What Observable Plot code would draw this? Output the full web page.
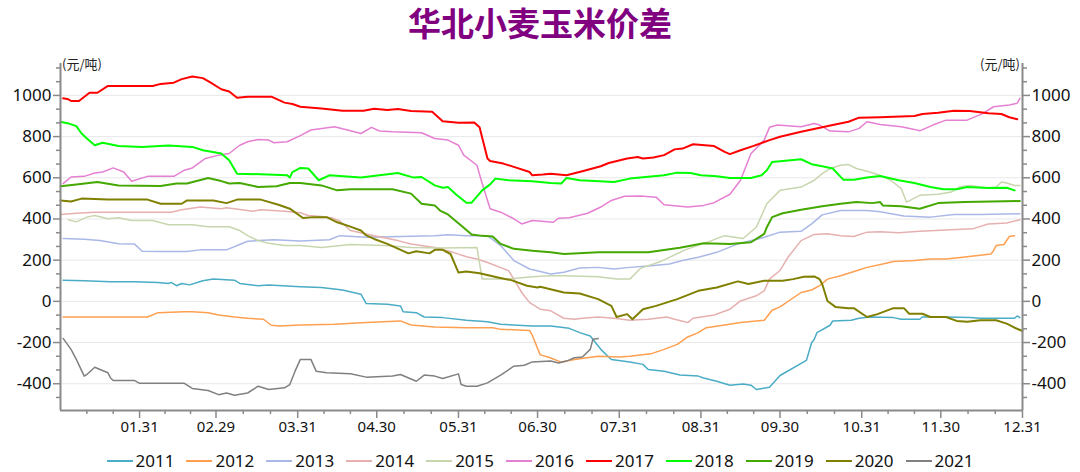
<!DOCTYPE html>
<html><head><meta charset="utf-8">
<script src="https://cdn.jsdelivr.net/npm/d3@7"></script>
<script src="https://cdn.jsdelivr.net/npm/@observablehq/plot@0.6"></script>
<style>
body{margin:0;background:#fff;width:1080px;height:472px;overflow:hidden;position:relative;font-family:"Noto Sans",sans-serif;color:#111;}
#title{position:absolute;top:0;left:0;width:1080px;text-align:center;font-weight:bold;font-size:33px;font-family:"Noto Sans CJK SC";color:#800080;line-height:44px;}
#chart{position:absolute;top:45px;left:0;}
.unit{position:absolute;top:54px;font-size:13px;font-family:"Noto Sans CJK SC";color:#222;}
#legend{position:absolute;top:450px;left:0;width:1080px;display:flex;justify-content:center;font-size:17px;line-height:22px;}
.item{display:flex;align-items:center;margin:0 6px;}
.sw{width:26px;height:2px;margin-right:3px;}
</style></head>
<body>
<div id="title">华北小麦玉米价差</div>
<div class="unit" style="left:62px">(元/吨)</div>
<div class="unit" style="right:60px">(元/吨)</div>
<div id="chart"></div>
<div id="legend"></div>
<script>
const years = ["2011","2012","2013","2014","2015","2016","2017","2018","2019","2020","2021"];
const colors = ["#4BACC6","#FF9F50","#A9B8E6","#E6B0B0","#C8D6AE","#E580D2","#FF0000","#00FF00","#44A800","#808000","#808080"];
const widths = [1.5,1.5,1.5,1.5,1.5,1.5,2,2,2,2,1.5];
const monthEnds = ["01-31","02-29","03-31","04-30","05-31","06-30","07-31","08-31","09-30","10-31","11-30","12-31"];
const yTicks = [-400,-200,0,200,400,600,800,1000];

const s2011 = [["01-02",103],["01-10",100],["01-20",95],["01-29",95],["02-07",92],["02-11",87],["02-12",92],["02-14",76],["02-16",87],["02-19",80],["02-24",100],["02-28",108],["03-07",103],["03-09",87],["03-16",76],["03-20",80],["04-01",71],["04-09",67],["04-17",55],["04-24",35],["04-26",-11],["05-04",-14],["05-09",-22],["05-10",-50],["05-15",-55],["05-18",-76],["05-25",-79],["06-03",-92],["06-11",-99],["06-16",-111],["06-28",-120],["07-05",-120],["07-12",-131],["07-16",-152],["07-20",-168],["07-24",-233],["07-28",-282],["08-04",-294],["08-09",-306],["08-11",-331],["08-17",-339],["08-23",-358],["08-30",-363],["09-01",-372],["09-06",-388],["09-11",-407],["09-16",-401],["09-19",-407],["09-21",-428],["09-26",-417],["09-30",-360],["10-10",-287],["10-12",-201],["10-13",-184],["10-14",-152],["10-19",-116],["10-20",-95],["10-27",-92],["10-30",-82],["11-03",-76],["11-12",-79],["11-15",-87],["11-22",-87],["11-23",-76],["12-02",-76],["12-11",-79],["12-15",-82],["12-28",-82],["12-29",-71],["12-30",-79]];
const s2012 = [["01-02",-76],["02-03",-76],["02-07",-55],["02-17",-51],["02-20",-50],["02-26",-55],["03-01",-66],["03-07",-76],["03-12",-82],["03-18",-87],["03-21",-116],["03-24",-120],["04-01",-115],["04-14",-111],["04-26",-103],["05-09",-95],["05-13",-115],["05-22",-124],["06-03",-128],["06-13",-128],["06-16",-136],["06-27",-141],["06-28",-165],["07-01",-260],["07-04",-270],["07-09",-295],["07-14",-282],["07-23",-266],["07-31",-270],["08-04",-266],["08-12",-255],["08-17",-233],["08-22",-209],["08-26",-173],["08-30",-152],["09-02",-128],["09-09",-115],["09-15",-103],["09-24",-92],["09-27",-43],["09-30",-27],["10-08",43],["10-12",55],["10-15",76],["10-18",108],["10-23",124],["10-29",149],["11-02",165],["11-08",181],["11-12",194],["11-20",198],["11-26",206],["12-02",206],["12-10",217],["12-19",230],["12-20",246],["12-21",271],["12-24",276],["12-26",315],["12-28",319]];
const s2013 = [["01-02",305],["01-10",301],["01-16",295],["01-23",280],["01-29",279],["02-01",243],["02-08",242],["02-18",242],["02-23",250],["03-04",250],["03-09",276],["03-12",292],["03-22",299],["04-01",293],["04-12",299],["04-16",319],["04-26",311],["05-09",315],["05-22",319],["05-27",324],["06-03",319],["06-11",319],["06-16",271],["06-21",198],["06-27",157],["07-05",133],["07-10",141],["07-16",162],["07-23",165],["07-29",157],["08-04",165],["08-12",173],["08-19",181],["08-24",198],["08-30",214],["09-06",238],["09-14",279],["09-24",311],["09-30",336],["10-08",340],["10-12",376],["10-16",420],["10-23",441],["11-02",441],["11-07",435],["11-16",414],["11-26",409],["12-05",422],["12-15",422],["12-30",425]];
const s2014 = [["01-01",422],["01-07",428],["01-14",433],["02-12",433],["02-16",445],["02-23",458],["03-02",450],["03-04",455],["03-14",438],["03-17",445],["03-26",438],["04-01",430],["04-04",417],["04-09",412],["04-13",405],["04-16",390],["04-20",344],["04-29",319],["05-08",295],["05-13",279],["05-22",262],["05-29",238],["06-03",217],["06-07",206],["06-11",189],["06-19",149],["06-21",108],["06-24",43],["06-27",-6],["07-01",-38],["07-05",-46],["07-10",-82],["07-14",-87],["07-17",-82],["07-23",-76],["07-29",-82],["08-04",-92],["08-11",-87],["08-18",-76],["08-21",-87],["08-26",-103],["08-28",-82],["09-05",-66],["09-11",-38],["09-15",2],["09-21",27],["09-24",51],["09-26",108],["09-30",150],["10-03",214],["10-08",295],["10-13",325],["10-18",328],["10-23",319],["10-28",315],["11-02",336],["11-07",338],["11-14",333],["11-22",340],["12-02",347],["12-12",352],["12-18",376],["12-25",380],["12-30",396]];
const s2015 = [["01-04",396],["01-07",386],["01-11",409],["01-14",417],["01-19",401],["01-23",406],["01-28",393],["02-05",393],["02-11",372],["02-20",372],["02-26",362],["03-05",362],["03-09",344],["03-12",319],["03-16",295],["03-20",282],["03-26",271],["04-01",271],["04-09",262],["04-20",276],["05-03",271],["05-13",262],["05-25",259],["06-07",262],["06-09",108],["06-19",108],["06-28",119],["07-05",124],["07-10",124],["07-23",119],["07-30",108],["08-04",108],["08-08",160],["08-16",195],["08-25",250],["09-03",290],["09-09",319],["09-16",305],["09-21",360],["09-25",474],["09-30",539],["10-08",555],["10-13",588],["10-16",620],["10-19",645],["10-23",661],["10-26",664],["10-29",645],["11-02",632],["11-07",612],["11-11",588],["11-15",547],["11-17",482],["11-22",515],["11-29",520],["12-04",531],["12-07",555],["12-11",563],["12-18",550],["12-21",555],["12-23",580],["12-25",575],["12-28",563],["12-30",563]];
const s2016 = [["01-02",572],["01-05",604],["01-10",607],["01-14",623],["01-17",628],["01-21",648],["01-25",628],["01-28",583],["02-03",607],["02-13",607],["02-17",637],["02-20",648],["02-25",694],["03-01",710],["03-05",718],["03-09",758],["03-12",775],["03-16",786],["03-20",783],["03-22",770],["03-27",775],["04-01",805],["04-05",832],["04-14",848],["04-20",828],["04-24",815],["04-28",845],["05-01",827],["05-06",823],["05-17",819],["05-22",791],["05-27",783],["05-31",758],["06-02",710],["06-07",661],["06-09",572],["06-12",450],["06-16",433],["06-21",401],["06-24",376],["06-28",393],["07-06",384],["07-08",404],["07-12",406],["07-19",428],["07-24",458],["07-28",490],["08-02",510],["08-08",511],["08-14",506],["08-17",469],["08-26",458],["09-01",466],["09-05",479],["09-11",520],["09-15",588],["09-19",718],["09-24",783],["09-26",845],["09-29",856],["10-04",851],["10-08",848],["10-13",864],["10-15",856],["10-19",827],["10-26",823],["10-30",840],["11-02",872],["11-07",859],["11-15",848],["11-20",835],["11-22",828],["11-27",856],["12-02",880],["12-10",880],["12-16",913],["12-20",945],["12-26",954],["12-29",962],["12-30",986]];
const s2017 = [["01-02",986],["01-04",981],["01-05",973],["01-08",973],["01-12",1013],["01-15",1013],["01-19",1046],["02-05",1046],["02-08",1056],["02-13",1062],["02-16",1079],["02-20",1092],["02-24",1084],["02-27",1062],["03-02",1030],["03-05",1019],["03-08",989],["03-12",994],["03-21",994],["03-26",965],["03-29",958],["04-01",945],["04-09",937],["04-17",926],["04-25",926],["04-29",935],["05-04",929],["05-08",934],["05-13",924],["05-21",921],["05-25",875],["05-31",867],["06-06",869],["06-08",845],["06-11",694],["06-12",682],["06-17",669],["06-21",653],["06-27",628],["06-28",612],["07-02",616],["07-05",620],["07-11",612],["07-17",632],["07-24",656],["07-27",672],["08-03",694],["08-07",701],["08-09",694],["08-13",699],["08-17",710],["08-21",738],["08-24",742],["08-28",763],["09-05",754],["09-09",726],["09-11",715],["09-15",734],["09-20",755],["09-26",783],["09-30",799],["10-08",824],["10-16",845],["10-20",856],["10-26",872],["10-30",892],["11-07",894],["11-20",900],["11-23",910],["11-29",916],["12-05",926],["12-11",924],["12-18",913],["12-23",910],["12-26",894],["12-29",884]];
const s2018 = [["01-01",872],["01-04",864],["01-07",851],["01-09",815],["01-11",791],["01-14",758],["01-17",770],["01-23",754],["02-01",750],["02-11",757],["02-20",750],["02-24",734],["03-02",718],["03-05",685],["03-08",620],["03-17",617],["03-27",612],["03-28",601],["03-29",628],["04-01",648],["04-04",645],["04-08",588],["04-12",612],["04-24",601],["05-01",612],["05-08",623],["05-14",601],["05-17",604],["05-22",563],["05-25",552],["05-27",555],["05-30",520],["06-03",479],["06-05",479],["06-09",539],["06-12",568],["06-14",596],["06-19",588],["06-28",583],["07-05",575],["07-09",572],["07-11",599],["07-16",588],["07-29",580],["08-04",596],["08-17",612],["08-22",625],["08-27",623],["08-31",612],["09-06",607],["09-11",599],["09-19",599],["09-23",612],["09-25",637],["09-27",677],["09-30",680],["10-08",690],["10-12",666],["10-16",656],["10-20",645],["10-24",591],["10-28",591],["11-02",601],["11-07",609],["11-14",588],["11-20",575],["11-26",555],["12-01",544],["12-06",544],["12-10",555],["12-18",550],["12-25",552],["12-28",539]];
const s2019 = [["01-01",559],["01-07",568],["01-15",580],["01-23",563],["02-08",560],["02-14",572],["02-18",572],["02-26",599],["03-02",584],["03-05",572],["03-09",575],["03-16",555],["03-23",559],["03-28",575],["04-01",575],["04-09",563],["04-15",539],["04-20",544],["05-06",544],["05-13",523],["05-17",474],["05-22",466],["05-24",441],["05-27",422],["06-01",368],["06-05",325],["06-09",318],["06-13",315],["06-16",279],["06-21",255],["06-28",246],["07-05",238],["07-10",230],["07-23",238],["08-04",238],["08-11",238],["08-23",260],["09-01",282],["09-11",279],["09-19",287],["09-24",328],["09-25",360],["09-27",409],["10-01",428],["10-08",445],["10-16",462],["10-23",474],["10-29",482],["11-04",477],["11-07",482],["11-08",466],["11-15",462],["11-22",450],["11-29",477],["12-09",482],["12-30",487]];
const s2020 = [["01-01",490],["01-05",485],["01-09",499],["01-19",494],["02-03",494],["02-08",474],["02-16",474],["02-18",490],["02-28",490],["03-04",477],["03-08",494],["03-17",494],["03-24",468],["03-28",450],["04-02",405],["04-06",409],["04-11",409],["04-15",384],["04-20",363],["04-24",344],["04-26",320],["04-29",303],["05-04",279],["05-12",233],["05-15",243],["05-20",233],["05-22",250],["05-25",250],["05-28",230],["05-31",140],["06-03",145],["06-08",136],["06-15",116],["06-20",103],["06-26",76],["06-30",67],["07-01",71],["07-10",43],["07-16",38],["07-23",11],["07-28",-22],["07-30",-76],["08-03",-62],["08-05",-87],["08-09",-38],["08-14",-22],["08-22",11],["08-30",51],["09-06",67],["09-14",97],["09-18",84],["09-24",100],["10-01",100],["10-05",108],["10-09",119],["10-13",121],["10-15",108],["10-16",84],["10-18",2],["10-21",-27],["10-26",-33],["10-28",-33],["11-02",-76],["11-06",-62],["11-12",-33],["11-16",-33],["11-18",-60],["11-23",-60],["11-26",-76],["12-02",-76],["12-06",-95],["12-10",-99],["12-15",-92],["12-21",-92],["12-25",-108],["12-28",-128],["12-31",-144]];
const s2021 = [["01-02",-180],["01-05",-233],["01-07",-282],["01-10",-363],["01-11",-355],["01-14",-320],["01-16",-331],["01-19",-347],["01-20",-372],["01-21",-384],["01-29",-384],["01-31",-398],["02-17",-398],["02-20",-423],["02-26",-433],["03-01",-453],["03-04",-445],["03-07",-456],["03-12",-445],["03-16",-412],["03-20",-428],["03-26",-420],["03-28",-404],["03-30",-339],["04-01",-282],["04-05",-282],["04-07",-339],["04-11",-347],["04-20",-352],["04-26",-368],["05-06",-363],["05-09",-355],["05-15",-388],["05-18",-358],["05-22",-363],["05-25",-375],["05-31",-352],["06-01",-404],["06-03",-412],["06-07",-412],["06-11",-396],["06-16",-358],["06-21",-315],["06-25",-310],["06-28",-294],["07-05",-290],["07-08",-299],["07-11",-290],["07-14",-274],["07-17",-270],["07-20",-233],["07-21",-184],["07-23",-180]];

const series = [s2011,s2012,s2013,s2014,s2015,s2016,s2017,s2018,s2019,s2020,s2021];

const D = s => new Date(Date.UTC(2020, +s.slice(0,2) - 1, +s.slice(3)));
const xStart = D("01-01"), xEnd = D("12-31");
const yDomain = [-530, 1155];

// minor ticks: each month interval split in thirds
const majors = monthEnds.map(D);
const minorX = [];
let prev = xStart;
for (const m of majors) {
  const span = m - prev;
  minorX.push(new Date(+prev + span/3), new Date(+prev + 2*span/3));
  prev = m;
}
const minorY = d3.range(-8, 18).map(i => i*200/3).filter(v => v >= yDomain[0] && v <= yDomain[1] && Math.abs(v % 200) > 1);

const axisColor = "#8a8a8a";
const marks = [
  Plot.gridY(yTicks, {stroke:"#e8e8e8", strokeOpacity:1}),
];
series.forEach((s, i) => {
  marks.push(Plot.line(s, {x: d => D(d[0]), y: d => d[1], stroke: colors[i], strokeWidth: widths[i]}));
});
marks.push(
  Plot.ruleX([xStart], {stroke:axisColor, strokeWidth:2}),
  Plot.ruleX([xEnd], {stroke:axisColor, strokeWidth:2}),
  Plot.ruleY([yDomain[0]], {stroke:axisColor, strokeWidth:2}),
  Plot.axisX(majors, {anchor:"bottom", tickSize:8, tickPadding:3, stroke:axisColor, strokeWidth:1.5, fontSize:15, tickFormat: d3.utcFormat("%m.%d")}),
  Plot.axisX(minorX, {anchor:"bottom", tickSize:4, stroke:axisColor, strokeWidth:1.5, tickFormat: () => ""}),
  Plot.axisY(yTicks, {anchor:"left", tickSize:7, tickPadding:2, stroke:axisColor, strokeWidth:1.5, fontSize:17, tickFormat: d => String(d)}),
  Plot.axisY(minorY, {anchor:"left", tickSize:4, stroke:axisColor, strokeWidth:1.5, tickFormat: () => ""}),
  Plot.axisY(yTicks, {anchor:"right", tickSize:7, tickPadding:2, stroke:axisColor, strokeWidth:1.5, fontSize:17, tickFormat: d => String(d)}),
  Plot.axisY(minorY, {anchor:"right", tickSize:4, stroke:axisColor, strokeWidth:1.5, tickFormat: () => ""})
);

const chart = Plot.plot({
  width:1080, height:400,
  marginLeft:60, marginRight:58, marginTop:18, marginBottom:35,
  style:{fontFamily:"Noto Sans", color:"#111", background:"transparent"},
  x:{type:"utc", domain:[xStart, xEnd]},
  y:{domain:yDomain},
  marks
});
document.getElementById("chart").appendChild(chart);

const legend = document.getElementById("legend");
years.forEach((y, i) => {
  const it = document.createElement("div");
  it.className = "item";
  const sw = document.createElement("span");
  sw.className = "sw";
  sw.style.background = colors[i];
  const t = document.createElement("span");
  t.textContent = y;
  it.appendChild(sw); it.appendChild(t);
  legend.appendChild(it);
});
</script>
</body></html>
